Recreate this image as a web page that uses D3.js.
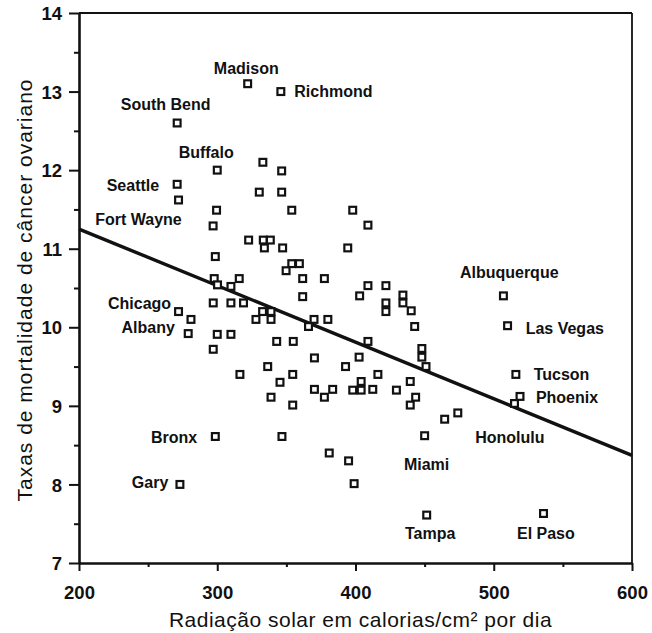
<!DOCTYPE html>
<html>
<head>
<meta charset="utf-8">
<script src="https://cdn.jsdelivr.net/npm/d3@7"></script>
<style>
  body { margin: 0; background: #fff; }
  svg { font-family: "Liberation Sans", Arial, sans-serif; }
</style>
</head>
<body>
<svg id="chart" width="652" height="633"></svg>
<script>
// radiação solar (cal/cm2 por dia) e taxa de mortalidade
const radiation = [
  322, 346, 271, 300, 271, 272, 272, 281, 279, 298.6, 273, 507, 510, 516, 519, 515, 451.5, 536, 450,
  333, 346.6, 330.4, 346.6, 299.5, 353.9, 297, 322.7, 333.3, 338.4, 334.1, 347.3, 298.6, 353.9, 359.4,
  349.8, 297.8, 315.9, 361.8, 377.5, 300.2, 309.9, 361.8, 297.1, 309.9, 319, 332.8, 338.9, 328, 338.9,
  300, 309.9, 297.1, 366, 370, 380, 343, 355, 370.3, 336.5, 316.4, 354.6, 345.4, 370.3, 377.5, 338.9,
  354.6, 383.5, 346.8, 381, 395, 399,
  398, 409, 394.4, 409, 403, 422, 422, 422, 434.3, 434.3, 440.3, 442.8, 409, 448, 448, 451, 402.6,
  392.8, 416.2, 404.1, 398, 404.1, 412.5, 429.6, 439.6, 443.5, 439.6, 464.5, 474
];
const mortality = [
  13.1, 13.0, 12.6, 12.0, 11.82, 11.62, 10.2, 10.1, 9.92, 8.61, 8.0, 10.4, 10.02, 9.4, 9.12, 9.03, 7.61, 7.63, 8.62,
  12.1, 11.99, 11.72, 11.72, 11.49, 11.49, 11.29, 11.11, 11.11, 11.11, 11.01, 11.01, 10.9, 10.81, 10.81,
  10.72, 10.62, 10.62, 10.62, 10.62, 10.54, 10.52, 10.39, 10.31, 10.31, 10.31, 10.2, 10.2, 10.1, 10.1,
  9.91, 9.91, 9.72, 10.01, 10.1, 10.1, 9.82, 9.82, 9.61, 9.5, 9.4, 9.4, 9.3, 9.21, 9.11, 9.11,
  9.01, 9.21, 8.61, 8.4, 8.3, 8.01,
  11.49, 11.3, 11.01, 10.53, 10.4, 10.53, 10.31, 10.2, 10.41, 10.31, 10.21, 10.01, 9.82, 9.73, 9.62, 9.5, 9.62,
  9.5, 9.4, 9.31, 9.2, 9.2, 9.21, 9.2, 9.31, 9.11, 9.01, 8.83, 8.91
];

// reta de regressão
const fitX = [200, 600];
const fitY = [11.25, 8.37];

// rótulos das cidades (posição do texto em unidades dos eixos)
const cityNames = ["Madison", "Richmond", "South Bend", "Buffalo", "Seattle", "Fort Wayne", "Chicago",
  "Albany", "Bronx", "Gary", "Albuquerque", "Las Vegas", "Tucson", "Phoenix", "Honolulu", "Miami",
  "Tampa", "El Paso"];
const cityX = [321, 384, 262.7, 292, 239, 243, 243.8, 250, 268.8, 251.4, 511.2, 551.4, 549, 553,
  511.6, 451.4, 454, 537.7];
const cityY = [13.23, 12.93, 12.76, 12.15, 11.74, 11.30, 10.23, 9.93, 8.53, 7.96, 10.63, 9.92, 9.33,
  9.04, 8.53, 8.19, 7.31, 7.31];

const xTicks = [200, 300, 400, 500, 600];
const xMinor = [250, 350, 450, 550];
const yTicks = [7, 8, 9, 10, 11, 12, 13, 14];
const yMinor = [7.5, 8.5, 9.5, 10.5, 11.5, 12.5, 13.5];

const svg = d3.select("#chart");
const m = { left: 79, right: 632, top: 13, bottom: 563 };

const x = d3.scaleLinear().domain([200, 600]).range([m.left, m.right]);
const y = d3.scaleLinear().domain([7, 14]).range([m.bottom, m.top]);

// moldura superior e direita
svg.append("line")
  .attr("x1", m.left).attr("x2", m.right).attr("y1", m.top).attr("y2", m.top)
  .attr("stroke", "#111").attr("stroke-width", 1.8);
svg.append("line")
  .attr("x1", m.right).attr("x2", m.right).attr("y1", m.top).attr("y2", m.bottom)
  .attr("stroke", "#111").attr("stroke-width", 1.8);

// eixos
svg.append("g").attr("transform", `translate(0,${m.bottom})`)
  .call(d3.axisBottom(x).tickValues(xTicks).tickSize(8).tickSizeOuter(0).tickPadding(15).tickFormat(d3.format("d")));
svg.append("g").attr("transform", `translate(0,${m.bottom})`)
  .call(d3.axisBottom(x).tickValues(xMinor).tickSize(4).tickFormat(""))
  .select(".domain").remove();

const gy = svg.append("g").attr("transform", `translate(${m.left},0)`)
  .call(d3.axisLeft(y).tickValues(yTicks).tickSize(10).tickSizeOuter(0).tickPadding(7).tickFormat(d3.format("d")));
svg.append("g").attr("transform", `translate(${m.left},0)`)
  .call(d3.axisLeft(y).tickValues(yMinor).tickSize(5).tickFormat(""))
  .select(".domain").remove();

svg.selectAll(".domain").attr("stroke", "#111").attr("stroke-width", 2.6);
svg.selectAll(".tick line").attr("stroke", "#111").attr("stroke-width", 2);
svg.selectAll(".tick text")
  .attr("fill", "#111")
  .style("font-family", "'Liberation Sans', Arial, sans-serif")
  .style("font-size", "18.5px")
  .style("font-weight", "bold");
gy.selectAll(".tick text").attr("dy", "0.36em");

// reta de regressão
svg.append("line")
  .attr("x1", x(fitX[0])).attr("y1", y(fitY[0]))
  .attr("x2", x(fitX[1])).attr("y2", y(fitY[1]))
  .attr("stroke", "#111").attr("stroke-width", 3.4);

// pontos
const pts = radiation.map((r, i) => ({ r: r, v: mortality[i] }));
svg.append("g").selectAll("rect")
  .data(pts)
  .join("rect")
  .attr("x", (d) => x(d.r) - 3.4)
  .attr("y", (d) => y(d.v) - 3.4)
  .attr("width", 6.8)
  .attr("height", 6.8)
  .attr("fill", "#fff")
  .attr("stroke", "#111")
  .attr("stroke-width", 2.2);

// rótulos das cidades
svg.append("g").selectAll("text")
  .data(cityNames)
  .join("text")
  .attr("x", (d, i) => x(cityX[i]))
  .attr("y", (d, i) => y(cityY[i]))
  .attr("text-anchor", "middle")
  .attr("fill", "#111")
  .style("font-size", "16px")
  .style("font-weight", "bold")
  .text((d) => d);

// títulos dos eixos
svg.append("text")
  .attr("x", (m.left + m.right) / 2 + 5)
  .attr("y", 627)
  .attr("text-anchor", "middle")
  .attr("fill", "#111")
  .style("font-size", "21px")
  .style("letter-spacing", "0.5px")
  .text("Radiação solar em calorias/cm² por dia");

svg.append("text")
  .attr("transform", "translate(32,290) rotate(-90)")
  .attr("text-anchor", "middle")
  .attr("fill", "#111")
  .style("font-size", "21px")
  .style("letter-spacing", "1px")
  .text("Taxas de mortalidade de câncer ovariano");
</script>
</body>
</html>
